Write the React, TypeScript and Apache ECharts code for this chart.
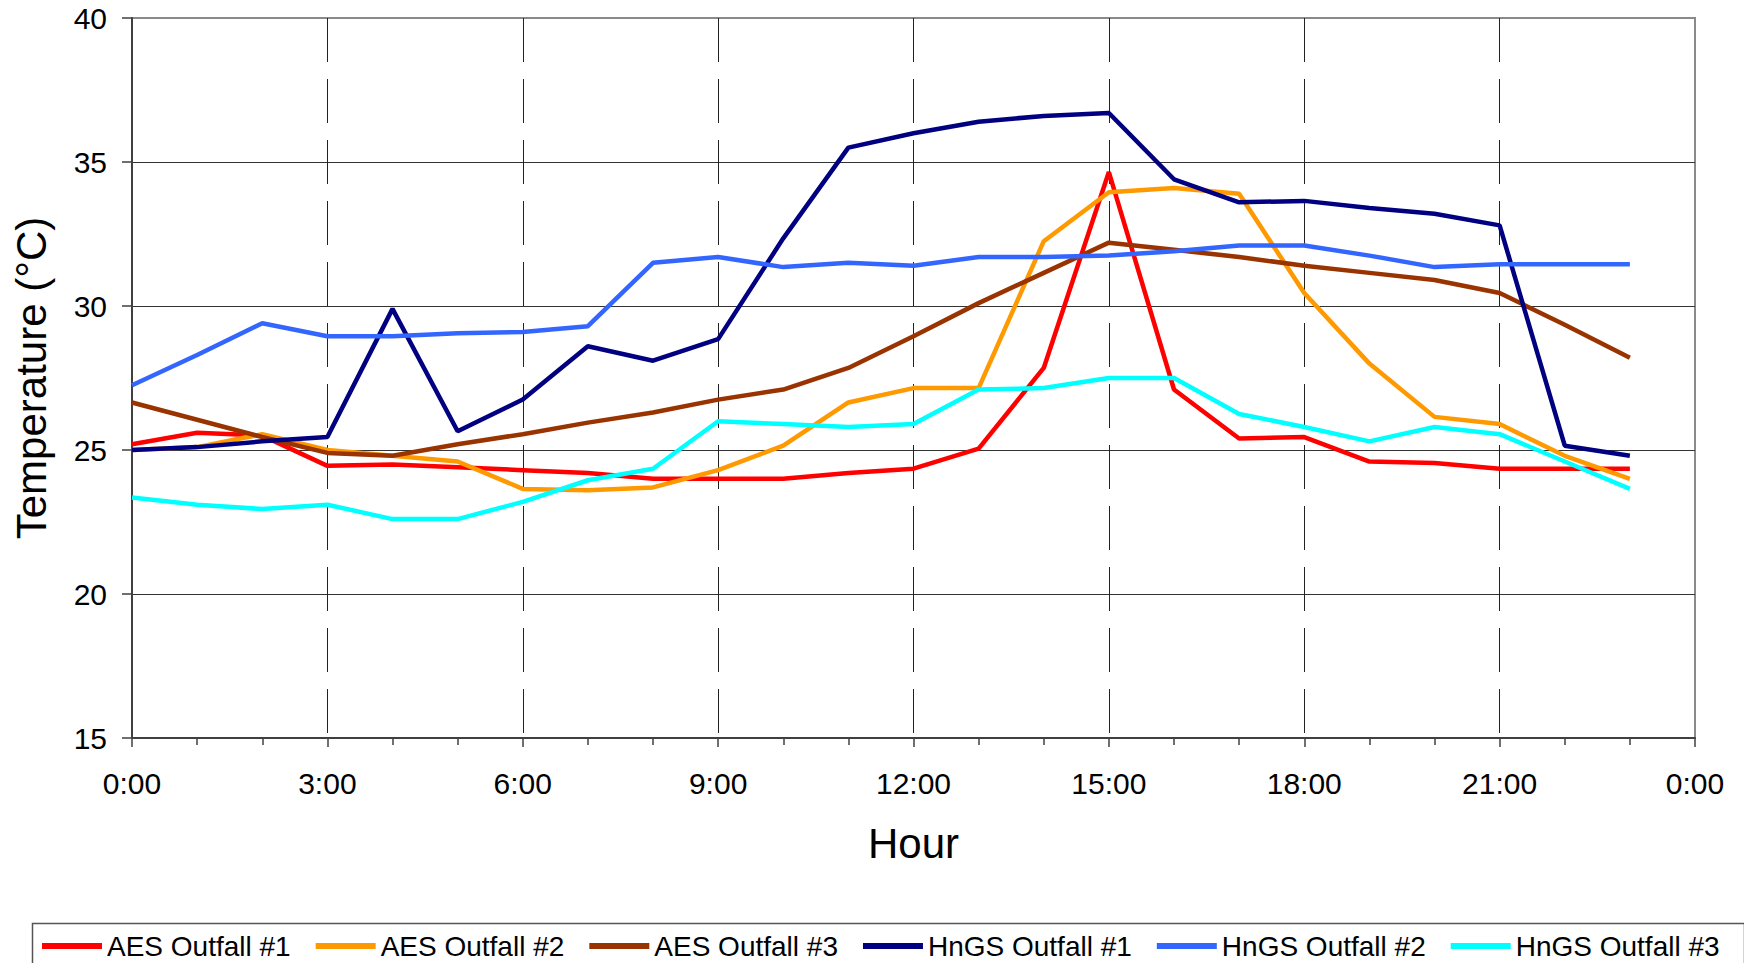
import React, { useEffect, useRef } from "react";
import * as echarts from "echarts";

const hours = [0, 1, 2, 3, 4, 5, 6, 7, 8, 9, 10, 11, 12, 13, 14, 15, 16, 17, 18, 19, 20, 21, 22, 23];

const seriesNames = [
  "AES Outfall #1",
  "AES Outfall #2",
  "AES Outfall #3",
  "HnGS Outfall #1",
  "HnGS Outfall #2",
  "HnGS Outfall #3",
];

const seriesColors = ["#FF0000", "#FF9900", "#993300", "#000080", "#3366FF", "#00FFFF"];

const aes1 = [25.2, 25.6, 25.5, 24.45, 24.5, 24.4, 24.3, 24.2, 24.0, 24.0, 24.0, 24.2, 24.35, 25.05, 27.85, 34.65, 27.1, 25.4, 25.45, 24.6, 24.55, 24.35, 24.35, 24.35];
const aes2 = [25.0, 25.1, 25.55, 25.0, 24.8, 24.6, 23.65, 23.6, 23.7, 24.3, 25.15, 26.65, 27.15, 27.15, 32.25, 33.95, 34.1, 33.9, 30.45, 28.0, 26.15, 25.9, 24.8, 24.0];
const aes3 = [26.65, 26.05, 25.45, 24.9, 24.8, 25.2, 25.55, 25.95, 26.3, 26.75, 27.1, 27.85, 28.95, 30.1, 31.15, 32.2, 31.95, 31.7, 31.4, 31.15, 30.9, 30.45, 29.35, 28.2];
const hngs1 = [25.0, 25.1, 25.3, 25.45, 29.9, 25.65, 26.75, 28.6, 28.1, 28.85, 32.35, 35.5, 36.0, 36.4, 36.6, 36.7, 34.4, 33.6, 33.65, 33.4, 33.2, 32.8, 25.15, 24.8];
const hngs2 = [27.25, 28.3, 29.4, 28.95, 28.95, 29.05, 29.1, 29.3, 31.5, 31.7, 31.35, 31.5, 31.4, 31.7, 31.7, 31.75, 31.9, 32.1, 32.1, 31.75, 31.35, 31.45, 31.45, 31.45];
const hngs3 = [23.35, 23.1, 22.95, 23.1, 22.6, 22.6, 23.2, 23.95, 24.35, 26.0, 25.9, 25.8, 25.9, 27.1, 27.15, 27.5, 27.5, 26.25, 25.8, 25.3, 25.8, 25.55, 24.6, 23.65];

const seriesValues = [aes1, aes2, aes3, hngs1, hngs2, hngs3];

const xTickLabels = ["0:00", "3:00", "6:00", "9:00", "12:00", "15:00", "18:00", "21:00", "0:00"];

const FONT = "'Liberation Sans', Arial, Helvetica, sans-serif";

export default function App() {
  const ref = useRef<HTMLDivElement>(null);

  useEffect(() => {
    if (!ref.current) return;
    const chart = echarts.init(ref.current, undefined, { renderer: "svg" });
    const option = {
      animation: false,
      backgroundColor: "#ffffff",
      textStyle: { fontFamily: FONT },
      grid: {
        left: 132,
        right: 49,
        top: 18,
        bottom: 225,
        show: true,
        borderColor: "#8a8a8a",
        borderWidth: 2,
        backgroundColor: "transparent",
      },
      legend: {
        left: 37,
        top: 927,
        itemWidth: 60,
        itemHeight: 6,
        itemGap: 25,
        icon: "rect",
        textStyle: { fontSize: 28, color: "#000", fontFamily: FONT },
        data: seriesNames,
      },
      graphic: [
        {
          type: "rect",
          left: 30,
          top: 921,
          shape: { x: 0, y: 0, width: 1712, height: 100 },
          style: { fill: "none", stroke: "#555", lineWidth: 1.5 },
          silent: true,
        },
      ],
      xAxis: {
        type: "value",
        min: 0,
        max: 24,
        interval: 3,
        name: "Hour",
        nameLocation: "middle",
        nameGap: 84,
        nameTextStyle: { fontSize: 42, color: "#000", fontFamily: FONT },
        axisLine: { show: true, lineStyle: { color: "#404040", width: 2 } },
        axisTick: { show: true, length: 9, lineStyle: { color: "#404040", width: 1.5 } },
        minorTick: { show: true, splitNumber: 3, length: 7, lineStyle: { color: "#404040", width: 1.5 } },
        axisLabel: {
          fontSize: 30,
          color: "#000",
          margin: 30,
          fontFamily: FONT,
          formatter: (v: number) => xTickLabels[Math.round(v / 3)] ?? "",
        },
        splitLine: {
          show: true,
          lineStyle: {
            color: ["transparent", "#222", "#222", "#222", "#222", "#222", "#222", "#222", "transparent"],
            width: 1,
            type: [44, 17],
          },
        },
      },
      yAxis: {
        type: "value",
        min: 15,
        max: 40,
        interval: 5,
        name: "Temperature (°C)",
        nameLocation: "middle",
        nameGap: 80,
        nameTextStyle: { fontSize: 42, color: "#000", fontFamily: FONT },
        axisLine: { show: true, lineStyle: { color: "#404040", width: 2 } },
        axisTick: { show: true, length: 10, lineStyle: { color: "#404040", width: 1.5 } },
        axisLabel: { fontSize: 30, color: "#000", margin: 25, fontFamily: FONT },
        splitLine: {
          show: true,
          lineStyle: {
            color: ["transparent", "#333", "#333", "#333", "#333", "transparent"],
            width: 1.2,
          },
        },
      },
      series: seriesNames.map((name, si) => ({
        name,
        type: "line",
        symbol: "none",
        showSymbol: false,
        color: seriesColors[si],
        lineStyle: { width: 4.5, color: seriesColors[si] },
        data: hours.map((h, i) => [h, seriesValues[si][i]]),
      })),
    };
    chart.setOption(option as any);
    return () => chart.dispose();
  }, []);

  return (
    <div
      ref={ref}
      style={{ position: "absolute", left: 0, top: 0, width: 1744, height: 963, background: "#fff" }}
    />
  );
}
